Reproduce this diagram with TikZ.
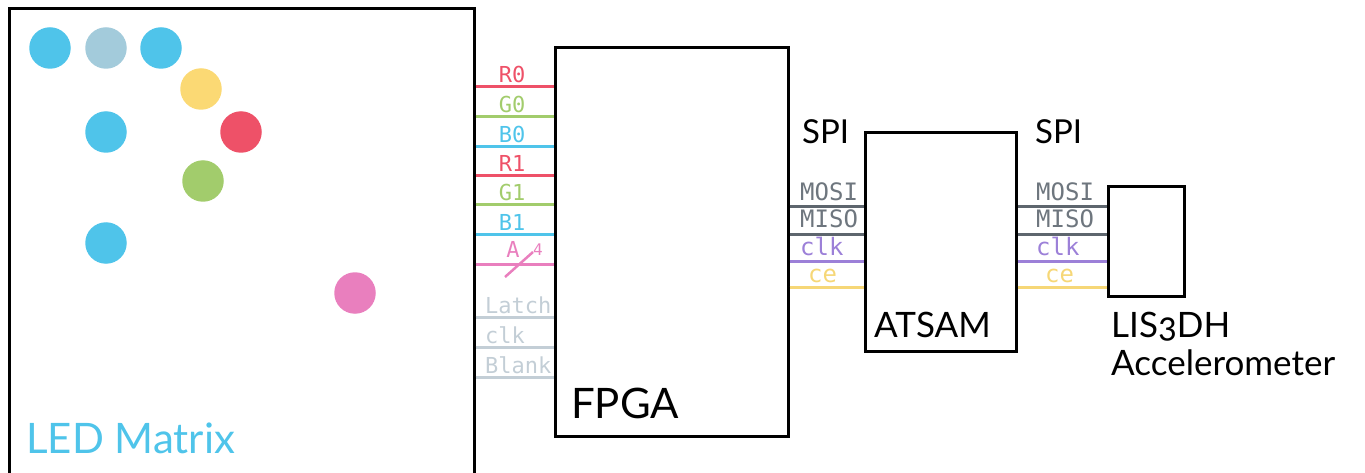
\documentclass[tikz,border=0pt]{standalone}
\usepackage{fontspec}
\setmainfont{Lato}
\setmonofont{DejaVu Sans Mono}
\usetikzlibrary{positioning}
\definecolor{ledblue}{HTML}{4FC4EA}
\definecolor{ledpale}{HTML}{A3CBDB}
\definecolor{ledyellow}{HTML}{FBD974}
\definecolor{ledred}{HTML}{EE5168}
\definecolor{ledgreen}{HTML}{A2CC6C}
\definecolor{ledpink}{HTML}{E97FBE}
\definecolor{ctrlgray}{HTML}{C3CED6}
\definecolor{spigray}{HTML}{5E666E}
\definecolor{spitext}{HTML}{6E767E}
\definecolor{spipurple}{HTML}{9C80D8}
\definecolor{spiyellow}{HTML}{F6D777}

\begin{document}
\begin{tikzpicture}[x=1pt,y=-1pt]
\tikzset{
  blockbox/.style={draw,line width=3pt,inner sep=0pt},
  led/.style={circle,inner sep=0pt,minimum size=41.5pt},
  wire/.style={line width=3pt},
  pinlabel/.style={font=\ttfamily\fontsize{22}{22}\selectfont,inner sep=0pt,anchor=base},
  spilabel/.style={font=\ttfamily\fontsize{24}{24}\selectfont,inner sep=0pt,anchor=base west},
  chipname/.style={font=\fontsize{35}{35}\selectfont,inner sep=0pt,anchor=base west}
}
\useasboundingbox (0,0) rectangle (1365,473);
\node[blockbox,minimum width=465pt,minimum height=467pt] (n_matrix) at (241.5,242.5) {};
\node[blockbox,minimum width=233pt,minimum height=388pt] (n_fpga) at (671.5,242) {};
\node[blockbox,minimum width=151pt,minimum height=218pt] (n_atsam) at (940.5,242) {};
\node[blockbox,minimum width=76pt,minimum height=109pt] (n_lis) at (1146,241.5) {};
\node[led,fill=ledblue] (d_0) at (50,48) {};
\node[led,fill=ledpale] (d_1) at (106,48) {};
\node[led,fill=ledblue] (d_2) at (161,48) {};
\node[led,fill=ledyellow] (d_3) at (201,89) {};
\node[led,fill=ledblue] (d_4) at (106,132) {};
\node[led,fill=ledred] (d_5) at (241,132) {};
\node[led,fill=ledgreen] (d_6) at (203,181) {};
\node[led,fill=ledblue] (d_7) at (106,243) {};
\node[led,fill=ledpink] (d_8) at (355,293) {};
\draw[wire,ledred] (n_matrix.east |- 0,87) -- (n_fpga.west |- 0,87);
\draw[wire,ledgreen] (n_matrix.east |- 0,117) -- (n_fpga.west |- 0,117);
\draw[wire,ledblue] (n_matrix.east |- 0,147) -- (n_fpga.west |- 0,147);
\draw[wire,ledred] (n_matrix.east |- 0,176) -- (n_fpga.west |- 0,176);
\draw[wire,ledgreen] (n_matrix.east |- 0,205) -- (n_fpga.west |- 0,205);
\draw[wire,ledblue] (n_matrix.east |- 0,234) -- (n_fpga.west |- 0,234);
\draw[wire,ledpink] (n_matrix.east |- 0,264) -- (n_fpga.west |- 0,264);
\draw[wire,ctrlgray] (n_matrix.east |- 0,317) -- (n_fpga.west |- 0,317);
\draw[wire,ctrlgray] (n_matrix.east |- 0,347) -- (n_fpga.west |- 0,347);
\draw[wire,ctrlgray] (n_matrix.east |- 0,377) -- (n_fpga.west |- 0,377);
\draw[wire,ledpink,line width=2.5pt] (505,277) -- (533,252);
\node[pinlabel,text=ledred] (l_r0) at (512,83) {R0};
\node[pinlabel,text=ledgreen] (l_g0) at (512,113) {G0};
\node[pinlabel,text=ledblue] (l_b0) at (512,143) {B0};
\node[pinlabel,text=ledred] (l_r1) at (512,172) {R1};
\node[pinlabel,text=ledgreen] (l_g1) at (512,201) {G1};
\node[pinlabel,text=ledblue] (l_b1) at (512,230) {B1};
\node[pinlabel,text=ledpink] (l_a) at (513,257) {A};
\node[pinlabel,text=ledpink,font=\ttfamily\fontsize{16}{16}\selectfont] (l_a4) at (538,255) {4};
\node[pinlabel,text=ctrlgray,anchor=base west] (l_latch) at (485,313) {Latch};
\node[pinlabel,text=ctrlgray,anchor=base west] (l_clk) at (485,343) {clk};
\node[pinlabel,text=ctrlgray,anchor=base west] (l_blank) at (485,373) {Blank};
\draw[wire,spigray] (n_fpga.east |- 0,207) -- (n_atsam.west |- 0,207);
\draw[wire,spigray] (n_fpga.east |- 0,234) -- (n_atsam.west |- 0,234);
\draw[wire,spipurple] (n_fpga.east |- 0,261) -- (n_atsam.west |- 0,261);
\draw[wire,spiyellow] (n_fpga.east |- 0,287) -- (n_atsam.west |- 0,287);
\draw[wire,spigray] (n_atsam.east |- 0,207) -- (n_lis.west |- 0,207);
\draw[wire,spigray] (n_atsam.east |- 0,234) -- (n_lis.west |- 0,234);
\draw[wire,spipurple] (n_atsam.east |- 0,261) -- (n_lis.west |- 0,261);
\draw[wire,spiyellow] (n_atsam.east |- 0,287) -- (n_lis.west |- 0,287);
\node[spilabel,text=spitext] (s_mosi0) at (800,201) {MOSI};
\node[spilabel,text=spitext] (s_miso0) at (800,228) {MISO};
\node[spilabel,text=spipurple] (s_clk0) at (800,255) {clk};
\node[spilabel,text=spiyellow] (s_ce0) at (808,282) {ce};
\node[spilabel,text=spitext] (s_mosi1) at (1036,201) {MOSI};
\node[spilabel,text=spitext] (s_miso1) at (1036,228) {MISO};
\node[spilabel,text=spipurple] (s_clk1) at (1036,255) {clk};
\node[spilabel,text=spiyellow] (s_ce1) at (1045,282) {ce};
\node[chipname,font=\fontsize{33}{33}\selectfont] (t_spi0) at (802,144) {SPI};
\node[chipname,font=\fontsize{33}{33}\selectfont] (t_spi1) at (1035,144) {SPI};
\node[chipname,font=\fontsize{42}{42}\selectfont] (t_fpga) at (571,418) {FPGA};
\node[chipname] (t_atsam) at (874,337) {ATSAM};
\node[chipname] (t_lis) at (1111,337) {LIS{\addfontfeatures{Numbers=OldStyle}3}DH};
\node[chipname] (t_accel) at (1111,375) {Accelerometer};
\node[chipname,text=ledblue,font=\fontsize{42}{42}\selectfont] (t_matrix) at (26,453) {LED Matrix};
\end{tikzpicture}
\end{document}
